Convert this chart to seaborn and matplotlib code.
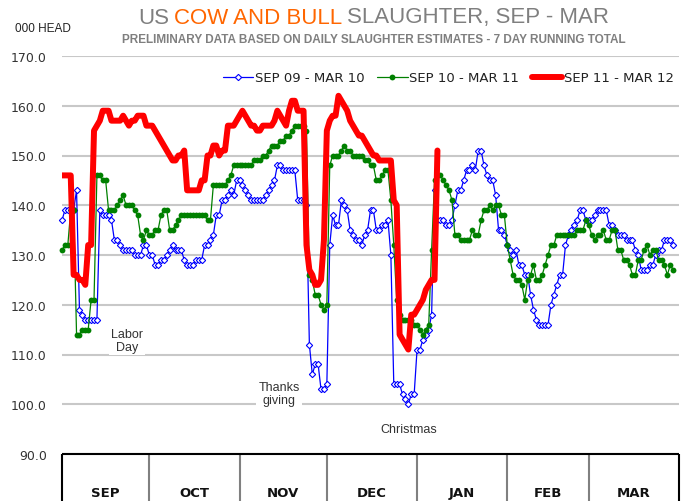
import numpy as np
import pandas as pd
import seaborn as sns
import matplotlib.pyplot as plt
from matplotlib.offsetbox import TextArea, HPacker, AnchoredOffsetbox

sns.set_theme(style="white")
plt.rcParams['font.family'] = ['DejaVu Sans']

# Months on the x axis and their length in days
months = ['SEP', 'OCT', 'NOV', 'DEC', 'JAN', 'FEB', 'MAR']
month_days = [30, 31, 30, 31, 31, 28, 31]

# 7 day running total, 000 head, one value per day from Sep 1
sep09_mar10 = [
    137, 139, 139, 139, 139, 143, 119, 118, 117, 117,
    117, 117, 117, 139, 138, 138, 138, 137, 133, 133,
    132, 131, 131, 131, 131, 130, 130, 130, 132, 132,
    130, 130, 128, 128, 129, 129, 130, 131, 132, 131,
    131, 131, 129, 128, 128, 128, 129, 129, 129, 132,
    132, 133, 134, 138, 138, 141, 141, 142, 143, 142,
    145, 145, 144, 143, 142, 141, 141, 141, 141, 141,
    142, 143, 144, 145, 148, 148, 147, 147, 147, 147,
    147, 141, 141, 141, 140, 112, 106, 108, 108, 103,
    103, 104, 132, 138, 136, 136, 141, 140, 139, 135,
    134, 133, 133, 132, 134, 135, 139, 139, 135, 135,
    136, 136, 137, 130, 104, 104, 104, 102, 101, 100,
    102, 102, 111, 111, 113, 114, 115, 118, 143, 137,
    137, 137, 136, 136, 137, 140, 143, 143, 145, 147,
    147, 148, 147, 151, 151, 148, 146, 145, 145, 142,
    135, 135, 134, 132, 131, 130, 131, 128, 128, 126,
    126, 122, 119, 117, 116, 116, 116, 116, 120, 122,
    124, 126, 126, 132, 134, 135, 136, 137, 139, 139,
    137, 137, 137, 138, 139, 139, 139, 139, 136, 136,
    135, 134, 134, 134, 133, 133, 133, 131, 130, 127,
    127, 127, 128, 128, 130, 131, 131, 133, 133, 133, 132,
]

sep10_mar11 = [
    131, 132, 132, 139, 139, 114, 114, 115, 115, 115,
    121, 121, 146, 146, 145, 145, 139, 139, 139, 140,
    141, 142, 140, 140, 140, 139, 138, 134, 133, 135,
    134, 134, 135, 135, 138, 139, 139, 135, 135, 136,
    137, 138, 138, 138, 138, 138, 138, 138, 138, 138,
    137, 137, 144, 144, 144, 144, 144, 145, 146, 148,
    148, 148, 148, 148, 148, 148, 149, 149, 149, 150,
    150, 151, 152, 152, 152, 153, 153, 154, 154, 155,
    156, 156, 156, 156, 155, 126, 125, 122, 122, 120,
    119, 120, 148, 150, 150, 150, 151, 152, 151, 151,
    150, 150, 150, 150, 149, 149, 148, 148, 145, 145,
    146, 147, 147, 141, 132, 121, 118, 117, 117, 117,
    117, 116, 116, 115, 114, 115, 116, 131, 145, 146,
    146, 145, 144, 143, 141, 134, 134, 133, 133, 133,
    133, 135, 134, 134, 137, 139, 139, 140, 139, 140,
    140, 138, 138, 132, 129, 126, 125, 125, 124, 121,
    125, 126, 128, 125, 125, 126, 128, 130, 132, 132,
    134, 134, 134, 134, 134, 134, 134, 135, 135, 135,
    137, 136, 134, 133, 134, 134, 135, 133, 133, 135,
    135, 131, 131, 129, 129, 128, 126, 126, 129, 129,
    131, 132, 130, 131, 131, 129, 129, 128, 126, 128, 127,
]

sep11_mar12 = [
    146, 146, 146, 146, 126, 126, 125, 125, 124, 132,
    132, 155, 156, 157, 159, 159, 159, 157, 157, 157,
    157, 158, 157, 156, 157, 157, 158, 158, 158, 156,
    156, 156, 155, 154, 153, 152, 151, 150, 149, 149,
    150, 150, 151, 143, 143, 143, 143, 143, 145, 145,
    150, 150, 152, 152, 150, 151, 151, 156, 156, 156,
    157, 158, 159, 158, 157, 156, 156, 155, 155, 156,
    156, 156, 156, 157, 159, 158, 157, 156, 159, 161,
    161, 159, 159, 159, 132, 127, 126, 124, 124, 125,
    133, 155, 157, 158, 158, 162, 161, 160, 159, 157,
    156, 155, 154, 154, 153, 152, 151, 150, 150, 149,
    149, 149, 149, 149, 141, 140, 114, 113, 112, 111,
    118, 118, 119, 120, 121, 123, 124, 125, 125, 151,
]

series_labels = ['SEP 09 - MAR 10', 'SEP 10 - MAR 11', 'SEP 11 - MAR 12']

# Holiday notes: (text, day, value)
notes = [('Labor\nDay', 22.3, 112.9),
         ('Thanks\ngiving', 74.6, 102.1),
         ('Christmas', 119.2, 95.0)]

bounds = np.concatenate([[0], np.cumsum(month_days)])
mids = (bounds[:-1] + bounds[1:]) / 2

def frame(vals):
    return pd.DataFrame({'day': np.arange(len(vals)), 'head': vals})

fig = plt.figure(figsize=(6.86, 5.02), dpi=100)
ax = fig.add_axes([62 / 686, 47 / 502, 617 / 686, 398 / 502])

sns.lineplot(data=frame(sep09_mar10), x='day', y='head', ax=ax, color='#0000ff',
             lw=0.9, marker='D', markersize=3.2, markerfacecolor='white',
             markeredgecolor='#0000ff', markeredgewidth=0.8,
             label=series_labels[0], clip_on=False, zorder=3)
sns.lineplot(data=frame(sep10_mar11), x='day', y='head', ax=ax, color='#008000',
             lw=0.9, marker='o', markersize=4.2, markeredgewidth=0,
             markerfacecolor='#008000', label=series_labels[1], clip_on=False, zorder=4)
sns.lineplot(data=frame(sep11_mar12), x='day', y='head', ax=ax, color='#ff0000',
             lw=4.3, label=series_labels[2], zorder=5)

ax.set_xlim(bounds[0], bounds[-1])
ax.set_ylim(90, 170)
ax.set_yticks(np.arange(90, 171, 10))
ax.set_yticklabels([f'{v:.1f}' for v in np.arange(90, 171, 10)])
ax.set_xticks([])
ax.set_xlabel('')
ax.set_ylabel('')
ax.tick_params(axis='y', length=0, labelsize=9, labelcolor='#333333', pad=11)
ax.yaxis.grid(True, color='#c8c8c8', lw=1.5)
ax.set_axisbelow(True)
for s in ax.spines.values():
    s.set_visible(False)

# Month box below the plot
ax.hlines(90, bounds[0], bounds[-1], color='black', lw=1.5, clip_on=False, zorder=6)
ax.vlines(bounds[1:-1], 75, 90, color='#808080', lw=1.5, clip_on=False)
ax.vlines([bounds[0], bounds[-1]], 75, 90, color='black', lw=1.5, clip_on=False)
for m, x in zip(months, mids):
    ax.text(x, 82.3, m, ha='center', va='center', fontsize=9.5,
            fontweight='bold', color='#111111', clip_on=False)

for txt, x, y in notes:
    ax.text(x, y, txt, ha='center', va='center', fontsize=9, color='#333333',
            family='Liberation Sans', linespacing=1.1,
            bbox=dict(facecolor='white', edgecolor='none', pad=1.5), zorder=2)

ax.legend(loc='upper right', bbox_to_anchor=(1.0, 0.975), ncol=3, frameon=False,
          fontsize=9.5, handlelength=2.3, handletextpad=0.1, columnspacing=1.0,
          borderaxespad=0, labelcolor='#222222')

# Title in three colours
gray = '#7f7f7f'
orange = '#ff6600'
tprops = dict(fontsize=16, family='Liberation Sans')
parts = [TextArea('US', textprops=dict(color=gray, **tprops)),
         TextArea('COW AND BULL', textprops=dict(color=orange, **tprops)),
         TextArea('SLAUGHTER, SEP - MAR', textprops=dict(color=gray, **tprops))]
title = AnchoredOffsetbox(loc='center', child=HPacker(children=parts, sep=3.5, pad=0),
                          pad=0, borderpad=0, frameon=False,
                          bbox_to_anchor=(374 / 686, 1 - 18 / 502),
                          bbox_transform=fig.transFigure)
fig.add_artist(title)
fig.text(374 / 686, 1 - 40 / 502,
         'PRELIMINARY DATA BASED ON DAILY SLAUGHTER ESTIMATES - 7 DAY RUNNING TOTAL',
         ha='center', va='center', fontsize=8.5, color=gray,
         family='Liberation Sans', fontweight='bold')
fig.text(15 / 686, 1 - 29 / 502, '000 HEAD', ha='left', va='center',
         fontsize=8.5, color='#222222', family='Liberation Sans')

fig.savefig('out.png', dpi=100)
